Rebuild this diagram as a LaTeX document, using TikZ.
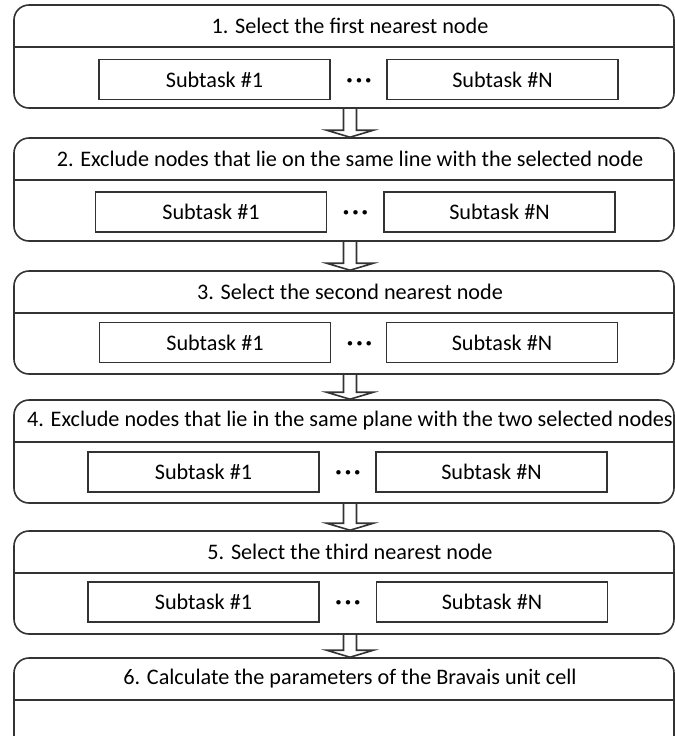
\documentclass[tikz,border=0pt]{standalone}
\usepackage{fontspec}
\setmainfont{Carlito}
\usetikzlibrary{calc}

\tikzset{
  stage/.style={draw=black!80, line width=0.8pt, rounded corners=7.5pt,
    minimum width=330pt, minimum height=51.5pt, inner sep=0pt},
  subtask/.style={draw=black!80, line width=0.8pt,
    minimum width=115.5pt, minimum height=20pt, inner sep=0pt},
  gap/.style={anchor=base, inner sep=0pt},
  divider/.style={draw=black!80, line width=0.8pt},
  flow/.style={draw=black!80, line width=0.8pt, line join=miter},
}

% hollow block arrow from one stage down to the next
\newcommand{\flowarrow}[2]{%
  \draw[flow] ($(#1.south -| ax)+(-6.5,0)$) -- ($(#2.north -| ax)+(-6.5,-7)$)
    -- ($(#2.north -| ax)+(-23.5,-7)$) -- (#2.north -| ax)
    -- ($(#2.north -| ax)+(23.5,-7)$) -- ($(#2.north -| ax)+(6.5,-7)$)
    -- ($(#1.south -| ax)+(6.5,0)$);}

\newcommand{\subdots}{{\bfseries\large ·\hspace{0.12em}·\hspace{0.12em}·}}

\begin{document}
\begin{tikzpicture}[x=0.5pt, y=-0.5pt, font=\fontsize{11.1}{13}\selectfont]
  \useasboundingbox (0,0) rectangle (675,736);
  \clip (0,0) rectangle (675,736);
  \coordinate (ax) at (350,0);

  % stages
  \node[stage] (s1) at (344,56.5) {};
  \node[stage] (s2) at (344,189.5) {};
  \node[stage] (s3) at (344,322.5) {};
  \node[stage] (s4) at (344,451.5) {};
  \node[stage] (s5) at (344,582.5) {};
  \node[stage] (s6) at (344,709.5) {};

  % titles
  \node (t1) at (350,26) {1. Select the first nearest node};
  \node (t2) at (350,159) {2. Exclude nodes that lie on the same line with the selected node};
  \node (t3) at (350,292) {3. Select the second nearest node};
  \node (t4) at (350,421) {4. Exclude nodes that lie in the same plane with the two selected nodes};
  \node (t5) at (350,552) {5. Select the third nearest node};
  \node (t6) at (350,679) {6. Calculate the parameters of the Bravais unit cell};

  \draw[divider] (s1.west |- 0,47) -- (s1.east |- 0,47);
  \draw[divider] (s2.west |- 0,180) -- (s2.east |- 0,180);
  \draw[divider] (s3.west |- 0,313) -- (s3.east |- 0,313);
  \draw[divider] (s4.west |- 0,442) -- (s4.east |- 0,442);
  \draw[divider] (s5.west |- 0,573) -- (s5.east |- 0,573);
  \draw[divider] (s6.west |- 0,700) -- (s6.east |- 0,700);

  % subtasks
  \node[subtask] (a1) at (214.5,79.5) {Subtask \#1};
  \node[subtask] (b1) at (502.5,79.5) {Subtask \#N};
  \node[gap] (d1) at (a1.base -| 359,0) {\subdots};

  \node[subtask] (a2) at (211,212) {Subtask \#1};
  \node[subtask] (b2) at (499.5,212) {Subtask \#N};
  \node[gap] (d2) at (a2.base -| 355.5,0) {\subdots};

  \node[subtask] (a3) at (215,342.5) {Subtask \#1};
  \node[subtask] (b3) at (502,342.5) {Subtask \#N};
  \node[gap] (d3) at (a3.base -| 359.5,0) {\subdots};

  \node[subtask] (a4) at (203.5,472) {Subtask \#1};
  \node[subtask] (b4) at (491.5,472) {Subtask \#N};
  \node[gap] (d4) at (a4.base -| 348,0) {\subdots};

  \node[subtask] (a5) at (203.5,602) {Subtask \#1};
  \node[subtask] (b5) at (492,602) {Subtask \#N};
  \node[gap] (d5) at (a5.base -| 348,0) {\subdots};

  % arrows
  \flowarrow{s1}{s2}
  \flowarrow{s2}{s3}
  \flowarrow{s3}{s4}
  \flowarrow{s4}{s5}
  \flowarrow{s5}{s6}
\end{tikzpicture}
\end{document}
